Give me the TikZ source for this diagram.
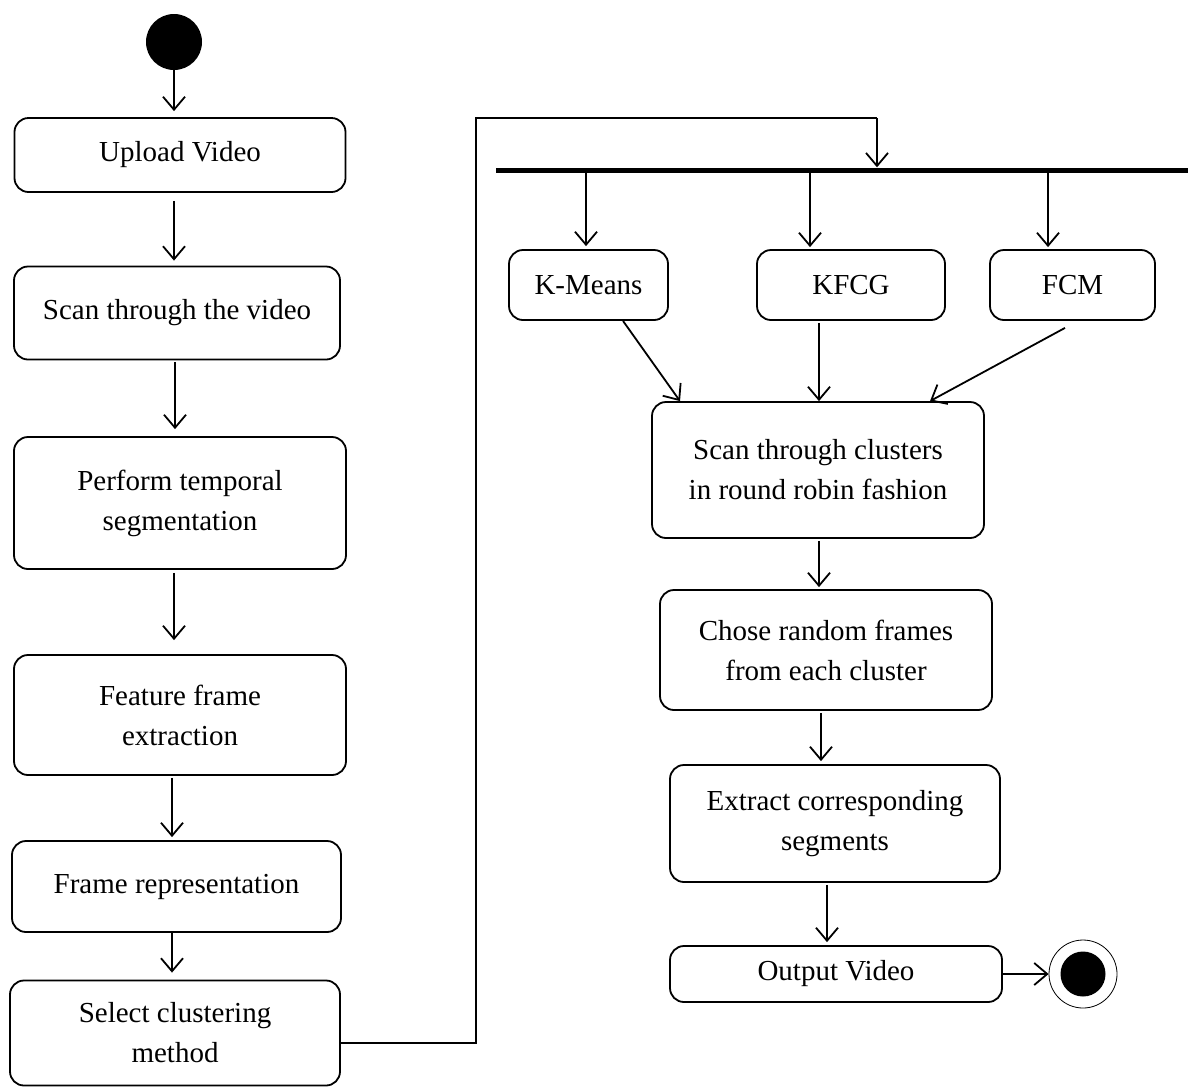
\documentclass[tikz,border=0pt]{standalone}
\usepackage{fontspec}
\setmainfont{Liberation Serif}
\usetikzlibrary{arrows.meta,
    positioning}

\tikzset{
  act/.style={draw, line width=1.8pt, rounded corners=14pt, align=center,
    inner sep=0pt, font=\fontsize{29}{40}\selectfont},
  arr/.style={line width=1.8pt,
    -{Straight Barb[length=13pt,width=22pt,line width=1.8pt]}},
}

\begin{document}
\begin{tikzpicture}[x=1pt,y=-1pt]
  \useasboundingbox (0,0) rectangle (1188,1088);
  % left column
  \node[circle, fill=black, minimum size=56pt, inner sep=0pt] (start) at (174,42) {};
  \node[act, minimum width=331pt, minimum height=74pt] (upload) at (180,155) {Upload Video};
  \node[act, minimum width=326pt, minimum height=93pt] (scan) at (177,313) {Scan through the video};
  \node[act, minimum width=332pt, minimum height=132pt] (temporal) at (180,503) {Perform temporal\\segmentation};
  \node[act, minimum width=332pt, minimum height=120pt] (feature) at (180,715) {Feature frame\\extraction};
  \node[act, minimum width=329pt, minimum height=91pt] (repr) at (176.5,886.5) {Frame representation};
  \node[act, minimum width=330pt, minimum height=105pt] (select) at (175,1033) {Select clustering\\method};
  % right column
  \node[fill=black, minimum width=692pt, minimum height=5pt, inner sep=0pt] (fork) at (842,170) {};
  \node[act, minimum width=159pt, minimum height=70pt] (kmeans) at (588.5,285) {K-Means};
  \node[act, minimum width=188pt, minimum height=70pt] (kfcg) at (851,285) {KFCG};
  \node[act, minimum width=165pt, minimum height=70pt] (fcm) at (1072.5,285) {FCM};
  \node[act, minimum width=332pt, minimum height=136pt] (clusters) at (818,470) {Scan through clusters\\in round robin fashion};
  \node[act, minimum width=332pt, minimum height=120pt] (chose) at (826,650) {Chose random frames\\from each cluster};
  \node[act, minimum width=330pt, minimum height=117pt] (extract) at (835,823.5) {Extract corresponding\\segments};
  \node[act, minimum width=332pt, minimum height=56pt] (output) at (836,974) {Output Video};
  \node[circle, draw, line width=0.8pt, minimum size=68pt, inner sep=0pt] (final) at (1083,974) {};
  \node[circle, fill=black, minimum size=45pt, inner sep=0pt] (finaldot) at (final) {};
  \coordinate (bend) at (877,118);

  \draw[arr] (start) -- ([xshift=-6pt,yshift=6pt]upload.north);
  \draw[arr] ([xshift=-6pt,yshift=-8pt]upload.south) -- ([xshift=-3pt,yshift=5pt]scan.north);
  \draw[arr] ([xshift=-2pt,yshift=-2pt]scan.south) -- ([xshift=-5pt,yshift=7pt]temporal.north);
  \draw[arr] ([xshift=-6pt,yshift=-3pt]temporal.south) -- ([xshift=-6pt,yshift=14pt]feature.north);
  \draw[arr] ([xshift=-8pt,yshift=-2pt]feature.south) -- ([xshift=-4.5pt,yshift=3pt]repr.north);
  \draw[arr] ([xshift=-4.5pt]repr.south) -- ([xshift=-3pt,yshift=7pt]select.north);
  \draw[line width=1.6pt] ([yshift=-10pt]select.east) -| (476,118) -- (bend);
  \draw[arr] (bend) -- (bend |- fork.north);

  \draw[arr] ([xshift=-2.5pt]kmeans.north |- fork.south) -- ([xshift=-2.5pt,yshift=3pt]kmeans.north);
  \draw[arr] ([xshift=-41pt]kfcg.north |- fork.south) -- ([xshift=-41pt,yshift=2pt]kfcg.north);
  \draw[arr] ([xshift=-24.5pt]fcm.north |- fork.south) -- ([xshift=-24.5pt,yshift=2pt]fcm.north);
  \draw[arr] ([xshift=34.5pt]kmeans.south) -- ([xshift=-138pt]clusters.north);
  \draw[arr] ([xshift=-32pt,yshift=-2pt]kfcg.south) -- ([xshift=1pt]clusters.north);
  \draw[arr] ([xshift=-7.5pt,yshift=-7pt]fcm.south) -- ([xshift=112pt]clusters.north);
  \draw[arr] ([xshift=1pt,yshift=-2pt]clusters.south) -- ([xshift=-7pt,yshift=2pt]chose.north);
  \draw[arr] ([xshift=-5pt,yshift=-2pt]chose.south) -- ([xshift=-14pt,yshift=3pt]extract.north);
  \draw[arr] ([xshift=-8pt,yshift=-2pt]extract.south) -- ([xshift=-9pt,yshift=3pt]output.north);
  \draw[arr] (output) -- (final);
\end{tikzpicture}
\end{document}
